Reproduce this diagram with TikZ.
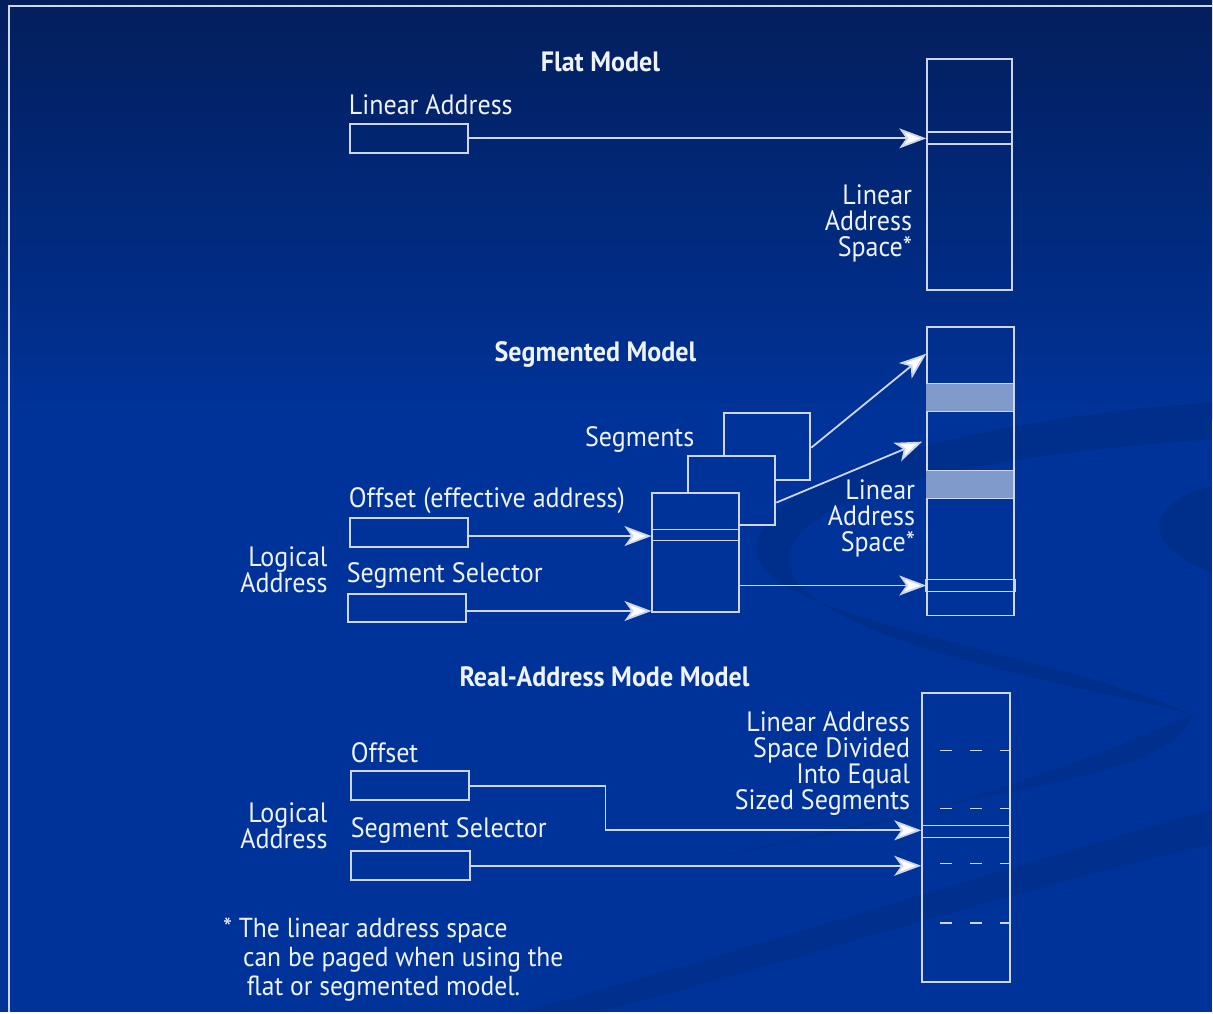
\documentclass[tikz,border=0pt]{standalone}
\usepackage{fontspec}
\setmainfont{PT Sans}[FakeStretch=0.93]
\usetikzlibrary{arrows.meta,positioning}

\definecolor{bgtop}{RGB}{3,30,92}
\definecolor{bgmain}{RGB}{0,51,153}
\definecolor{linec}{RGB}{205,214,236}
\definecolor{txtc}{RGB}{238,242,250}
\definecolor{bandc}{RGB}{128,154,204}

\tikzset{
  lbl/.style={text=txtc, inner sep=0pt, font=\fontsize{28}{26}\selectfont},
  ttl/.style={text=txtc, inner sep=0pt, font=\fontsize{28}{30}\selectfont\bfseries},
  addrbox/.style={draw=linec, line width=2pt, minimum width=118pt, minimum height=29pt, inner sep=0pt, anchor=north west},
  colbox/.style={draw=linec, line width=2pt, inner sep=0pt, anchor=north west},
  segbox/.style={draw=linec, fill=bgmain, line width=2pt, inner sep=0pt, anchor=north west},
  conn/.style={draw=linec, line width=1.8pt, -{Stealth[length=27pt,width=20pt,inset=7pt,fill=white]}},
  divline/.style={draw=linec, line width=1.6pt},
  eqline/.style={draw=linec, line width=1.6pt, dash pattern=on 12pt off 18pt, dash phase=11pt},
}

\begin{document}
\begin{tikzpicture}[x=1pt,y=-1pt]
  % background
  \fill[bgmain] (0,0) rectangle (1213,1013);
  \shade[top color=bgtop, bottom color=bgmain] (0,0) rectangle (1213,420);
  \fill[black, opacity=.09] (1213,403) .. controls (960,420) and (757,480) .. (757,550)
    .. controls (757,620) and (1050,650) .. (1193,715)
    .. controls (1100,690) and (790,640) .. (790,560)
    .. controls (790,495) and (980,455) .. (1213,440) -- cycle;
  \fill[black, opacity=.07] (1193,715) .. controls (1185,755) and (1100,775) .. (1000,795)
    .. controls (900,815) and (800,840) .. (700,860)
    .. controls (850,835) and (1000,800) .. (1193,715) -- cycle;
  \fill[black, opacity=.09] (1213,487) .. controls (1175,495) and (1158,515) .. (1160,530)
    .. controls (1163,550) and (1190,565) .. (1213,573) -- cycle;
  \fill[black, opacity=.07] (1213,810) -- (1213,845) .. controls (1000,895) and (800,960) .. (600,1013)
    -- (520,1013) .. controls (750,950) and (1000,870) .. (1213,810) -- cycle;
  \draw[linec, line width=2pt] (9,1013) -- (9,6) -- (1213,6);

  % Flat Model
  \node[ttl, anchor=base] (flatttl) at (601,72) {Flat Model};
  \node[lbl, anchor=base west] (flatlbl) at (349,115) {Linear Address};
  \node[addrbox] (flatbox) at (349,123) {};
  \node[colbox, minimum width=85pt, minimum height=231pt] (flatcol) at (927,58) {};
  \draw[divline] (flatcol.west |- 0,132) -- (flatcol.east |- 0,132);
  \draw[divline] (flatcol.west |- 0,144) -- (flatcol.east |- 0,144);
  \node[lbl, align=right, anchor=north east] (flatspace) at (913,185) {Linear\\Address\\Space*};
  \draw[conn] (flatbox.east) -- (flatbox.east -| flatcol.west);

  % Segmented Model
  \node[ttl, anchor=base] (segttl) at (596,362) {Segmented Model};
  \node[colbox, minimum width=87pt, minimum height=289pt] (segcol) at (927,326) {};
  \fill[bandc] (927,384) rectangle (1014,412);
  \fill[bandc] (927,471) rectangle (1014,499);
  \foreach \yy in {384,412,471,499}
    \draw[divline] (segcol.west |- 0,\yy) -- (segcol.east |- 0,\yy);
  \draw[divline] (segcol.west |- 0,580) rectangle (1016,592);
  \node[lbl, align=right, anchor=north east] (segspace) at (916,480) {Linear\\Address\\Space*};
  \node[lbl, anchor=base east] (seglbl) at (695,447) {Segments};
  \node[segbox, minimum width=86pt, minimum height=67pt] (segthree) at (724,412) {};
  \node[segbox, minimum width=87pt, minimum height=69pt] (segtwo) at (688,455) {};
  \node[segbox, minimum width=87pt, minimum height=119pt] (segone) at (652,492) {};
  \draw[divline] (segone.west |- 0,530) -- (segone.east |- 0,530);
  \draw[divline] (segone.west |- 0,541) -- (segone.east |- 0,541);
  \coordinate (segtipa) at (927,354);
  \coordinate (segtipb) at (923,442);
  \draw[conn] (segthree.east |- 0,448) -- (segtipa);
  \draw[conn] (segtwo.east |- 0,503) -- (segtipb);
  \draw[conn] (segone.east |- 0,586) -- (segcol.west |- 0,586);

  \node[lbl, anchor=base west] (offlbl) at (349,508) {Offset (effective address)};
  \node[addrbox] (offbox) at (349,517) {};
  \node[lbl, anchor=base west] (sellbl) at (347,583) {Segment Selector};
  \node[addrbox] (selbox) at (347,593) {};
  \node[lbl, align=right, anchor=north east] (seglog) at (328,547) {Logical\\Address};
  \draw[conn] ([yshift=-4pt]offbox.east) -- ([yshift=-4pt]offbox.east -| segone.west);
  \draw[conn] ([yshift=-3pt]selbox.east) -- ([yshift=-3pt]selbox.east -| segone.west);

  % Real-Address Mode Model
  \node[ttl, anchor=base] (realttl) at (605,687) {Real-Address Mode Model};
  \node[colbox, minimum width=88pt, minimum height=289pt] (realcol) at (922,693) {};
  \foreach \yy in {751,809,864,924}
    \draw[eqline] (realcol.west |- 0,\yy) -- (realcol.east |- 0,\yy);
  \draw[divline] (realcol.west |- 0,826) -- (realcol.east |- 0,826);
  \draw[divline] (realcol.west |- 0,838) -- (realcol.east |- 0,838);
  \node[lbl, align=right, anchor=north east] (realspace) at (911,712)
    {Linear Address\\Space Divided\\Into Equal\\Sized Segments};

  \node[lbl, anchor=base west] (roffl) at (351,763) {Offset};
  \node[addrbox] (roffbox) at (350,771) {};
  \node[lbl, anchor=base west] (rsell) at (351,838) {Segment Selector};
  \node[addrbox, minimum width=119pt] (rselbox) at (350,851) {};
  \node[lbl, align=right, anchor=north east] (reallog) at (328,803) {Logical\\Address};
  \coordinate (rbend) at (606,831);
  \draw[conn] (roffbox.east) -| (rbend) -- (rbend -| realcol.west);
  \draw[conn] (rselbox.east) -- (rselbox.east -| realcol.west);

  % footnote
  \node[lbl, align=left, anchor=north west, font=\fontsize{27.5}{29}\selectfont] (note) at (223,918)
    {* The linear address space\\\hspace*{20pt}can be paged when using the\\\hspace*{24pt}flat or segmented model.};
\end{tikzpicture}
\end{document}
